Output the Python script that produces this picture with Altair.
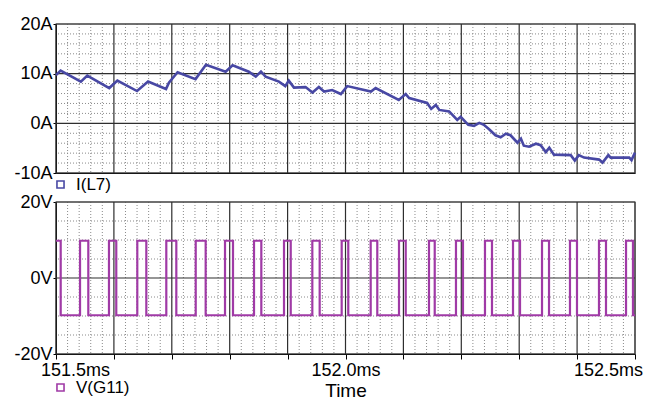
import altair as alt
import pandas as pd

# ---------------- data ----------------
# I(L7) current trace, time in ms, current in A
t_i = [151.500, 151.508, 151.543, 151.554, 151.592, 151.606, 151.640, 151.659, 151.690, 151.695,
       151.710, 151.741, 151.759, 151.793, 151.805, 151.833, 151.845, 151.854, 151.862, 151.885,
       151.896, 151.902, 151.911, 151.931, 151.943, 151.954, 151.963, 151.977, 151.992, 152.003,
       152.044, 152.052, 152.092, 152.104, 152.110, 152.141, 152.148, 152.156, 152.162, 152.179,
       152.193, 152.199, 152.212, 152.222, 152.231, 152.239, 152.248, 152.259, 152.268, 152.277,
       152.285, 152.297, 152.303, 152.308, 152.317, 152.329, 152.337, 152.346, 152.352, 152.360,
       152.389, 152.396, 152.403, 152.412, 152.438, 152.444, 152.454, 152.458, 152.478, 152.490,
       152.494, 152.500]
i_l7 = [9.7, 10.6, 8.4, 9.6, 7.1, 8.6, 6.5, 8.4, 6.9, 8.2,
        10.3, 8.9, 11.8, 10.4, 11.7, 10.4, 9.4, 10.4, 9.4, 8.4,
        7.5, 8.6, 7.2, 7.3, 6.2, 7.3, 6.4, 6.7, 5.9, 7.5,
        6.4, 7.1, 4.7, 5.9, 5.1, 4.1, 2.9, 3.7, 2.7, 2.4,
        0.7, 1.3, -0.3, -0.5, 0.1, -0.3, -1.2, -2.4, -2.8, -2.1,
        -2.4, -3.9, -3.1, -4.5, -4.7, -4.1, -4.4, -5.8, -4.9, -6.3,
        -6.4, -7.5, -6.4, -6.9, -7.3, -7.9, -6.4, -6.9, -6.9, -6.9,
        -7.4, -5.9]

# V(G11) gate voltage: switching instants (ms) and the level after each instant (V)
t_v = [151.5, 151.5081, 151.5415, 151.5558, 151.5915, 151.6041, 151.6404, 151.6560,
       151.6905, 151.7078, 151.7413, 151.7585, 151.7919, 151.8057, 151.8420, 151.8546,
       151.8938, 151.9054, 151.9427, 151.9554, 151.9934, 152.0048, 152.0435, 152.0549,
       152.0924, 152.1040, 152.1442, 152.1541, 152.1908, 152.2029, 152.2409, 152.2530,
       152.2893, 152.3014, 152.3394, 152.3515, 152.3877, 152.3998, 152.4378, 152.4499,
       152.4845, 152.4965, 152.5]
v_g11 = [9.8, -9.8, 9.8, -9.8, 9.8, -9.8, 9.8, -9.8,
         9.8, -9.8, 9.8, -9.8, 9.8, -9.8, 9.8, -9.8,
         9.8, -9.8, 9.8, -9.8, 9.8, -9.8, 9.8, -9.8,
         9.8, -9.8, 9.8, -9.8, 9.8, -9.8, 9.8, -9.8,
         9.8, -9.8, 9.8, -9.8, 9.8, -9.8, 9.8, -9.8,
         9.8, -9.8, -9.8]

# axis ticks / grid positions
x_major = [151.5, 151.6, 151.7, 151.8, 151.9, 152.0, 152.1, 152.2, 152.3, 152.4, 152.5]
x_minor = [round(a + k * 0.02, 3) for a in x_major[:-1] for k in (1, 2, 3, 4)]
x_labels = [151.5, 152.0, 152.5]
top_y_major = [-10, 0, 10, 20]
top_y_minor = [-8, -6, -4, -2, 2, 4, 6, 8, 12, 14, 16, 18]
bot_y_major = [-20, 0, 20]
bot_y_minor = [-15, -10, -5, 5, 10, 15]

FONT = "Liberation Sans"
W = 579
H_TOP = 149
H_BOT = 152

xs = alt.Scale(domain=[151.5, 152.5], nice=False, zero=False)
ys_top = alt.Scale(domain=[-10, 20], nice=False, zero=False)
ys_bot = alt.Scale(domain=[-20, 20], nice=False, zero=False)

df_i = pd.DataFrame({"t": t_i, "v": i_l7, "s": "I(L7)"})
df_v = pd.DataFrame({"t": t_v, "v": v_g11, "s": "V(G11)"})

x_axis_top = alt.Axis(labels=False, ticks=False, domain=True, domainColor="#000",
                      grid=False, title=None, values=x_major)
y_axis_top = alt.Axis(values=top_y_major, labelExpr="datum.value + 'A'", grid=False,
                      title=None, domainColor="#000", tickColor="#000", tickSize=3,
                      labelPadding=1)
x_axis_bot = alt.Axis(values=x_major, grid=False, title="Time", titleFont=FONT,
                      titleFontSize=19, titleFontWeight="normal", titleColor="#000",
                      titlePadding=2, tickSize=5, tickColor="#000", domainColor="#000",
                      labelPadding=2, labelFlush=False,
                      labelExpr="(abs(datum.value*2 - round(datum.value*2)) < 0.001) ? format(datum.value, '.1f') + 'ms' : ''",
                      labelOffset={"condition": [
                          {"test": "datum.value < 151.55", "value": 19},
                          {"test": "datum.value > 152.45", "value": -27}],
                          "value": 0})
y_axis_bot = alt.Axis(values=bot_y_major, labelExpr="datum.value + 'V'", grid=False,
                      title=None, domainColor="#000", tickColor="#000", tickSize=3,
                      labelPadding=1)


def grid_layers(x_axis, y_scale, y_axis, y_minor, y_major):
    vmin = alt.Chart(pd.DataFrame({"x": x_minor})).mark_rule(
        color="#8a8a8a", strokeDash=[1, 2], strokeWidth=1
    ).encode(x=alt.X("x:Q", scale=xs, axis=x_axis))
    hmin = alt.Chart(pd.DataFrame({"y": y_minor})).mark_rule(
        color="#8a8a8a", strokeDash=[1, 2], strokeWidth=1
    ).encode(y=alt.Y("y:Q", scale=y_scale, axis=y_axis))
    vmaj = alt.Chart(pd.DataFrame({"x": x_major})).mark_rule(
        color="#2e2e2e", strokeWidth=1.2
    ).encode(x=alt.X("x:Q", scale=xs, axis=x_axis))
    hmaj = alt.Chart(pd.DataFrame({"y": y_major})).mark_rule(
        color="#2e2e2e", strokeWidth=1.2
    ).encode(y=alt.Y("y:Q", scale=y_scale, axis=y_axis))
    return [vmin, hmin, vmaj, hmaj]


def legend(y):
    return alt.Legend(
        orient="none", legendX=-4, legendY=y, title=None, padding=0,
        symbolType="square", symbolSize=50, symbolStrokeWidth=1.6,
        symbolFillColor="white", labelFont=FONT, labelFontSize=17,
        labelColor="#000", labelOffset=7,
    )


top_line = alt.Chart(df_i).mark_line(strokeWidth=2.6).encode(
    x=alt.X("t:Q", scale=xs, axis=x_axis_top),
    y=alt.Y("v:Q", scale=ys_top, axis=y_axis_top),
    color=alt.Color("s:N", scale=alt.Scale(domain=["I(L7)"], range=["#4848a4"]),
                    legend=legend(H_TOP + 3)),
)

top = alt.layer(*grid_layers(x_axis_top, ys_top, y_axis_top, top_y_minor, top_y_major),
                top_line).properties(width=W, height=H_TOP)

bot_line = alt.Chart(df_v).mark_line(strokeWidth=2.2, interpolate="step-after").encode(
    x=alt.X("t:Q", scale=xs, axis=x_axis_bot),
    y=alt.Y("v:Q", scale=ys_bot, axis=y_axis_bot),
    color=alt.Color("s:N", scale=alt.Scale(domain=["V(G11)"], range=["#a03aa6"]),
                    legend=legend(H_BOT + 25)),
)

bottom = alt.layer(*grid_layers(x_axis_bot, ys_bot, y_axis_bot, bot_y_minor, bot_y_major),
                   bot_line).properties(width=W, height=H_BOT)

chart = alt.vconcat(top, bottom, spacing=-2).resolve_scale(color="independent").properties(
    padding={"left": 13, "top": 14, "right": 0, "bottom": 0},
    background="white",
).configure_view(stroke="#9a9a9a", strokeWidth=1.5).configure_axis(
    labelFont=FONT, labelFontSize=18, labelColor="#000"
)

chart.save("out.html", embed_options={"renderer": "svg", "actions": False})
